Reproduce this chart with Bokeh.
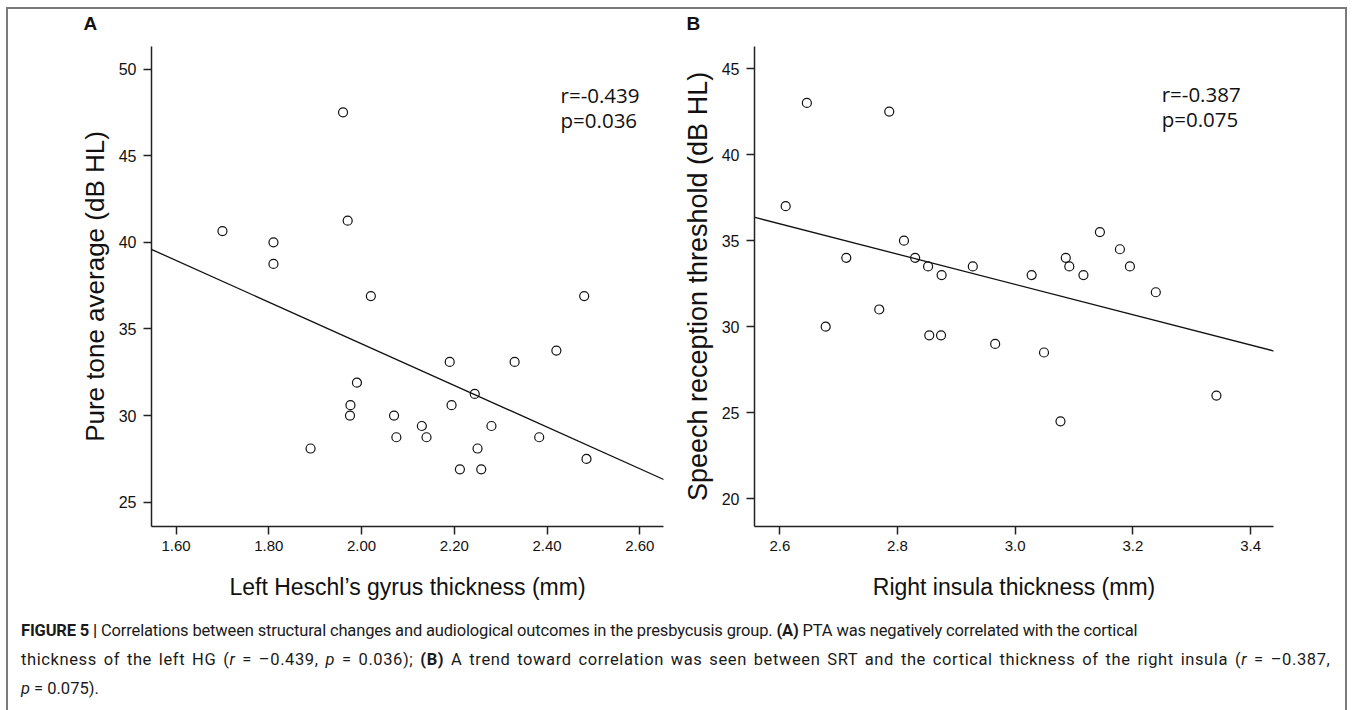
import numpy as np
from bokeh.plotting import figure
from bokeh.layouts import column, row
from bokeh.models import Div, Label, Slope, FixedTicker, Range1d, CustomJSTickFormatter
from bokeh.embed import file_html
from bokeh.resources import INLINE

# Panel A data: left Heschl's gyrus thickness (mm) vs pure tone average (dB HL)
hg_thickness = [1.70, 1.81, 1.81, 1.96, 1.97, 2.02, 1.99, 1.976, 1.975, 1.89,
                2.07, 2.075, 2.13, 2.14, 2.19, 2.194, 2.244, 2.25, 2.212, 2.258,
                2.28, 2.33, 2.383, 2.42, 2.48, 2.485]
pta_values = [40.65, 40.0, 38.75, 47.5, 41.25, 36.9, 31.9, 30.6, 30.0, 28.1,
              30.0, 28.75, 29.4, 28.75, 33.1, 30.6, 31.25, 28.1, 26.9, 26.9,
              29.4, 33.1, 28.75, 33.75, 36.9, 27.5]

# Panel B data: right insula thickness (mm) vs speech reception threshold (dB HL)
insula_thickness = [2.61, 2.646, 2.678, 2.713, 2.769, 2.786, 2.811, 2.830, 2.852, 2.854,
                    2.874, 2.875, 2.928, 2.966, 3.028, 3.049, 3.077, 3.086, 3.092, 3.116,
                    3.144, 3.178, 3.195, 3.239, 3.342]
srt_values = [37.0, 43.0, 30.0, 34.0, 31.0, 42.5, 35.0, 34.0, 33.5, 29.5,
              29.5, 33.0, 33.5, 29.0, 33.0, 28.5, 24.5, 34.0, 33.5, 33.0,
              35.5, 34.5, 33.5, 32.0, 26.0]

a_xticks = [1.6, 1.8, 2.0, 2.2, 2.4, 2.6]
a_yticks = [25, 30, 35, 40, 45, 50]
b_xticks = [2.6, 2.8, 3.0, 3.2, 3.4]
b_yticks = [20, 25, 30, 35, 40, 45]
a_stats = ["r=-0.439", "p=0.036"]
b_stats = ["r=-0.387", "p=0.075"]

FONT = "Liberation Sans"


def make_panel(xs, ys, xr, yr, xt, yt, xfmt, xlabel, ylabel, ylabel_size, letter,
               width, height, bl, br, bt, bb):
    p = figure(width=width, height=height, output_backend="svg",
               toolbar_location=None, x_range=Range1d(*xr), y_range=Range1d(*yr),
               min_border_left=bl, min_border_right=br, min_border_top=bt,
               min_border_bottom=bb)
    p.outline_line_color = None
    p.grid.visible = False
    p.background_fill_color = "white"
    p.border_fill_alpha = 0
    p.title.text = letter
    p.title.text_font = FONT
    p.title.text_font_size = "19px"
    p.title.text_font_style = "bold"
    p.title.text_color = "#111111"
    p.title.align = "left"
    p.title.offset = -68
    p.title.standoff = 26
    for ax in (p.xaxis[0], p.yaxis[0]):
        ax.axis_line_color = "#222222"
        ax.axis_line_width = 1.5
        ax.major_tick_line_color = "#222222"
        ax.major_tick_line_width = 1.5
        ax.major_tick_out = 8
        ax.major_tick_in = 0
        ax.minor_tick_line_color = None
        ax.major_label_text_font = FONT
        ax.major_label_text_color = "#111111"
        ax.axis_label_text_font = FONT
        ax.axis_label_text_font_style = "normal"
        ax.axis_label_text_color = "#111111"
    p.xaxis.ticker = FixedTicker(ticks=xt)
    p.yaxis.ticker = FixedTicker(ticks=yt)
    p.xaxis.formatter = CustomJSTickFormatter(code=f"return tick.toFixed({xfmt});")
    p.xaxis.major_label_text_font_size = "15px"
    p.yaxis.major_label_text_font_size = "16px"
    p.xaxis.major_label_standoff = 6
    p.yaxis.major_label_standoff = 7
    p.xaxis.axis_label = xlabel
    p.yaxis.axis_label = ylabel
    p.xaxis.axis_label_text_font_size = "23px"
    p.yaxis.axis_label_text_font_size = ylabel_size
    p.xaxis.axis_label_standoff = 20
    p.yaxis.axis_label_standoff = 6
    p.scatter(xs, ys, marker="circle", size=9, fill_color=None,
              line_color="#111111", line_width=1.2)
    slope, intercept = np.polyfit(xs, ys, 1)
    p.add_layout(Slope(gradient=float(slope), y_intercept=float(intercept),
                       line_color="#111111", line_width=1.3))
    return p


pA = make_panel(hg_thickness, pta_values, (1.547, 2.651), (23.6, 51.3),
                a_xticks, a_yticks, 2, "Left Heschl\u2019s gyrus thickness (mm)",
                "Pure tone average (dB HL)", "26px", "A", 670, 614, 143, 15, 49, 85)
pB = make_panel(insula_thickness, srt_values, (2.557, 3.439), (18.39, 46.28),
                b_xticks, b_yticks, 1, "Right insula thickness (mm)",
                "Speech reception threshold (dB HL)", "27px", "B", 667, 614, 76, 72, 49, 85)

for p, stats, x0, y0, y1 in ((pA, a_stats, 2.429, 48.5, 47.08),
                             (pB, b_stats, 3.249, 43.5, 42.06)):
    for txt, yy in ((stats[0], y0), (stats[1], y1)):
        p.add_layout(Label(x=x0, y=yy, text=txt, text_font="Open Sans",
                           text_font_size="20.5px", text_baseline="middle",
                           text_color="#111111"))

line1 = ("<b>FIGURE 5 |</b> Correlations between structural changes and audiological "
         "outcomes in the presbycusis group. <b>(A)</b> PTA was negatively correlated "
         "with the cortical")
line2 = ("thickness of the left HG (<i>r</i> = \u20130.439, <i>p</i> = 0.036); "
         "<b>(B)</b> A trend toward correlation was seen between SRT and the cortical "
         "thickness of the right insula (<i>r</i> = \u20130.387,")
line3 = "<i>p</i> = 0.075)."

caption = Div(
    text=(f'<span style="letter-spacing:-0.16px">{line1}</span><br>'
          f'<span style="letter-spacing:0.6px;word-spacing:2.2px">{line2}</span><br>'
          f'{line3}'),
    width=1325, height=100,
    styles={"font-family": "Roboto, sans-serif", "font-size": "16.5px",
            "line-height": "29px", "padding-left": "8px", "padding-top": "0px",
            "color": "#1a1a1a", "white-space": "nowrap", "overflow": "hidden"})

panels = row(pA, pB, styles={"margin-top": "-12px"})
layout = column(panels, caption,
                styles={"border": "2px solid #7a7a7a", "background": "white",
                        "margin-left": "6px", "margin-top": "7px"})

open("out.html", "w").write(file_html(layout, INLINE))
